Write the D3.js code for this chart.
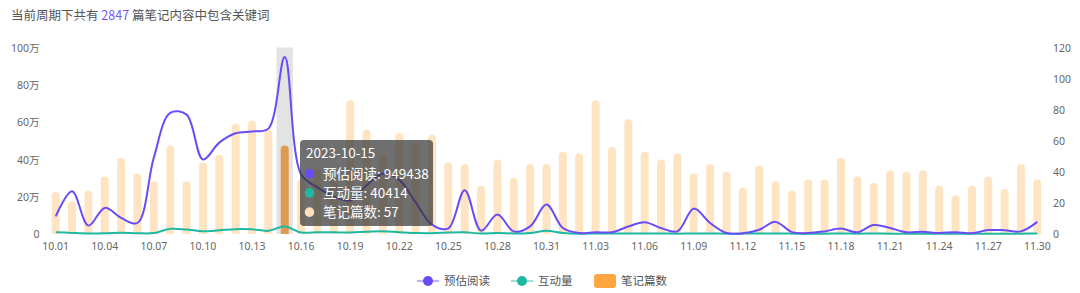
<!DOCTYPE html>
<html>
<head>
<meta charset="utf-8">
<script src="https://cdn.jsdelivr.net/npm/d3@7"></script>
<style>
  body { margin: 0; background: #fff; font-family: "Noto Sans CJK SC", "Noto Sans", sans-serif; }
  .tick-label { font-size: 10.5px; fill: #666; font-family: "Noto Sans", "Noto Sans CJK SC", sans-serif; }
</style>
</head>
<body>
<svg id="chart" width="1080" height="293"></svg>
<script>
// dates on x axis
const dates = ["10.01","10.02","10.03","10.04","10.05","10.06","10.07","10.08","10.09","10.10",
  "10.11","10.12","10.13","10.14","10.15","10.16","10.17","10.18","10.19","10.20",
  "10.21","10.22","10.23","10.24","10.25","10.26","10.27","10.28","10.29","10.30","10.31",
  "11.01","11.02","11.03","11.04","11.05","11.06","11.07","11.08","11.09","11.10",
  "11.11","11.12","11.13","11.14","11.15","11.16","11.17","11.18","11.19","11.20",
  "11.21","11.22","11.23","11.24","11.25","11.26","11.27","11.28","11.29","11.30"];

// 笔记篇数 (right axis)
const notes = [27,21,28,37,49,39,34,57,34,46,
  51,71,73,67,57,35,42,37,86,67,
  51,65,59,64,46,45,31,48,36,45,45,
  53,52,86,56,74,53,48,52,39,45,
  40,30,44,34,28,35,35,49,37,33,
  41,40,41,31,25,31,37,29,45,35];

// 预估阅读, in 万 (left axis)
const reads = [9.5,22.9,4.5,14,8.6,5.9,41,65,64,40,
  49,54,55,56.5,94.9438,32,25,20,18,26,
  32.5,29,17,5,3,23.5,1.8,10.4,1.4,4.1,15.8,
  3.2,0.5,1,0.9,4,6.3,3.2,1.4,13.6,5.9,
  0.5,0.4,2.3,6.5,1,0.5,1.4,2.9,0.9,4.8,
  3.2,0.9,1.2,0.5,1,0.4,2.1,2,1.4,6.5];

// 互动量, in 万 (left axis)
const interact = [1.0,0.6,0.3,0.4,0.7,0.4,0.5,2.8,2.4,1.5,
  2.0,2.6,2.5,1.7,4.0414,0.8,0.9,0.9,0.8,1.2,
  1.5,1.0,0.6,0.4,0.8,0.9,0.3,0.5,0.3,0.6,1.7,
  0.6,0.2,0.3,0.3,0.3,0.3,0.3,0.2,0.3,0.3,
  0.2,0.2,0.3,0.3,0.2,0.2,0.2,0.3,0.2,0.3,
  0.2,0.2,0.2,0.2,0.2,0.2,0.2,0.2,0.2,0.3];

const leftTicks = [0, 20, 40, 60, 80, 100];
const rightTicks = [0, 20, 40, 60, 80, 100, 120];
const hoverIndex = 14;
const tipTitle = "2023-10-15";
const tipRows = [
  {name: "预估阅读", value: "949438", color: "#6a4cf6"},
  {name: "互动量", value: "40414", color: "#1fb8a0"},
  {name: "笔记篇数", value: "57", color: "#ffe0bd"}
];

const purple = "#6a4cf6";
const teal = "#1fb8a0";
const barColor = "#ffe4c3";

const svg = d3.select("#chart");

// title
const title = svg.append("text")
  .attr("x", 11)
  .attr("y", 19.5)
  .attr("font-size", 12.5)
  .attr("fill", "#555");
title.append("tspan").text("当前周期下共有 ");
title.append("tspan").attr("fill", "#7657ff").text("2847");
title.append("tspan").text(" 篇笔记内容中包含关键词");

const x = d3.scaleBand()
  .domain(dates)
  .range([47.5, 1045.5])
  .padding(0);

const yLeft = d3.scaleLinear().domain([0, 100]).range([234, 47.5]);
const yRight = d3.scaleLinear().domain([0, 120]).range([234, 47.5]);

// hover shadow
svg.append("rect")
  .attr("x", x(dates[hoverIndex]))
  .attr("y", yLeft(100))
  .attr("width", x.bandwidth())
  .attr("height", yLeft(0) - yLeft(100))
  .attr("fill", "#e3e3e3");

// bars with rounded tops
const barW = 8;
const barPath = (d, i) => {
  const cx = x(dates[i]) + x.bandwidth() / 2;
  const x0 = cx - barW / 2, x1 = cx + barW / 2;
  const top = yRight(d), bottom = yRight(0);
  const r = Math.min(barW / 2, bottom - top);
  return `M${x0},${bottom}V${top + r}A${r},${r} 0 0 1 ${x0 + r},${top}` +
    `H${x1 - r}A${r},${r} 0 0 1 ${x1},${top + r}V${bottom}Z`;
};
svg.selectAll(".bar")
  .data(notes)
  .enter()
  .append("path")
  .attr("class", "bar")
  .attr("d", barPath)
  .attr("fill", (d, i) => i === hoverIndex ? "#e09a50" : barColor);

// lines
const cx = (d, i) => x(dates[i]) + x.bandwidth() / 2;
const readLine = d3.line()
  .x(cx)
  .y(d => yLeft(d))
  .curve(d3.curveCatmullRom.alpha(0.5));

svg.append("path")
  .datum(interact)
  .attr("d", readLine)
  .attr("fill", "none")
  .attr("stroke", teal)
  .attr("stroke-width", 2);

svg.append("path")
  .datum(reads)
  .attr("d", readLine)
  .attr("fill", "none")
  .attr("stroke", purple)
  .attr("stroke-width", 2);

// axes
const axisLeft = svg.append("g")
  .attr("transform", "translate(39.5,0)")
  .call(d3.axisLeft(yLeft).tickValues(leftTicks).tickSize(0).tickPadding(0)
    .tickFormat(d => d === 0 ? "0" : d + "万"));
axisLeft.select(".domain").remove();
axisLeft.selectAll("text").attr("class", "tick-label").attr("dy", "0.35em");

const axisRight = svg.append("g")
  .attr("transform", "translate(1053,0)")
  .call(d3.axisRight(yRight).tickValues(rightTicks).tickSize(0).tickPadding(0));
axisRight.select(".domain").remove();
axisRight.selectAll("text").attr("class", "tick-label").attr("dy", "0.35em");

const axisBottom = svg.append("g")
  .attr("transform", "translate(0,234)")
  .call(d3.axisBottom(x).tickValues(dates.filter((d, i) => i % 3 === 0)).tickSize(0).tickPadding(9));
axisBottom.select(".domain").remove();
axisBottom.selectAll("text").attr("class", "tick-label");

// tooltip
const tip = svg.append("g").attr("transform", "translate(300,140)");
tip.append("rect")
  .attr("width", 133)
  .attr("height", 86)
  .attr("rx", 4)
  .attr("fill", "rgba(55,55,55,0.72)");
tip.append("text")
  .attr("x", 6)
  .attr("y", 18)
  .attr("font-size", 13.5)
  .attr("fill", "#fff")
  .text(tipTitle);
tipRows.forEach((r, i) => {
  tip.append("circle")
    .attr("cx", 9.5)
    .attr("cy", 33.5 + i * 19.3)
    .attr("r", 4.8)
    .attr("fill", r.color);
  tip.append("text")
    .attr("x", 23)
    .attr("y", 38.5 + i * 19.3)
    .attr("font-size", 13.5)
    .attr("fill", "#fff")
    .text(`${r.name}: ${r.value}`);
});

// legend
const legend = svg.append("g").attr("transform", "translate(0,281)");
const legendItems = [
  {name: "预估阅读", color: purple, type: "line", x: 417},
  {name: "互动量", color: teal, type: "line", x: 511},
  {name: "笔记篇数", color: "#ffa640", type: "rect", x: 594}
];
legendItems.forEach(item => {
  if (item.type === "line") {
    legend.append("line")
      .attr("x1", item.x).attr("x2", item.x + 22)
      .attr("y1", 0).attr("y2", 0)
      .attr("stroke", item.color)
      .attr("stroke-opacity", 0.6)
      .attr("stroke-width", 1.5);
    legend.append("circle")
      .attr("cx", item.x + 11).attr("cy", 0).attr("r", 5)
      .attr("fill", item.color);
  } else {
    legend.append("rect")
      .attr("x", item.x).attr("y", -7)
      .attr("width", 22).attr("height", 14)
      .attr("rx", 3)
      .attr("fill", item.color);
  }
  legend.append("text")
    .attr("x", item.x + 27)
    .attr("y", 0)
    .attr("dy", "0.35em")
    .attr("font-size", 11.5)
    .attr("fill", "#555")
    .text(item.name);
});
</script>
</body>
</html>
